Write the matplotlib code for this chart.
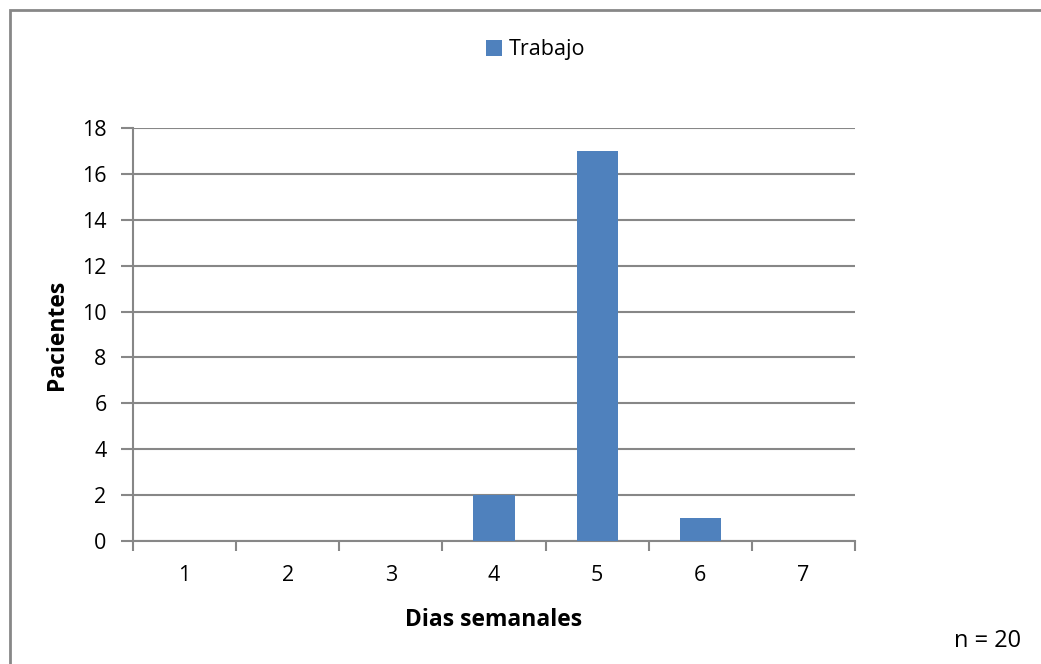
import matplotlib
matplotlib.use("Agg")
import matplotlib.pyplot as plt
from matplotlib.patches import Rectangle
import numpy as np

# Days worked per week and number of patients for each
dias = [1, 2, 3, 4, 5, 6, 7]
pacientes = [0, 0, 0, 2, 17, 1, 0]
serie = "Trabajo"
n_total = 20

plt.rcParams['font.family'] = ['Open Sans', 'DejaVu Sans']
gris = '#878787'
azul = '#4F81BD'

fig = plt.figure(figsize=(10.41, 6.64), dpi=100)
fig.patch.set_facecolor('white')

# outer frame of the chart area (runs off the right and bottom edges)
fig.patches.append(Rectangle((10 / 1041, -0.05), 1.1, 1 - 10 / 664 + 0.05,
                             transform=fig.transFigure, fill=False,
                             edgecolor=gris, linewidth=2))

ax = fig.add_axes([133 / 1041, 1 - 541 / 664, 722 / 1041, (541 - 128) / 664])
x = np.arange(len(dias))
ax.bar(x, pacientes, width=0.4, color=azul, label=serie, zorder=3)

ax.set_xlim(-0.5, len(dias) - 0.5)
ax.set_ylim(0, 18)
ax.set_yticks(np.arange(0, 19, 2))
ax.yaxis.grid(True, color=gris, linewidth=1.5, zorder=0)
ax.set_axisbelow(True)

ax.set_xticks(x)
ax.set_xticklabels([str(d) for d in dias])
ax.set_xticks(np.arange(-0.5, len(dias)), minor=True)
ax.tick_params(axis='x', which='major', length=0, pad=17, labelsize=15.5)
ax.tick_params(axis='x', which='minor', length=7, width=1.5, color=gris)
ax.tick_params(axis='y', length=9, width=1.5, color=gris, pad=10, labelsize=15.5)

for s in ['top', 'right']:
    ax.spines[s].set_visible(False)
for s in ['left', 'bottom']:
    ax.spines[s].set_color(gris)
    ax.spines[s].set_linewidth(1.5)

ax.set_xlabel("Dias semanales", fontsize=16.5, fontweight='bold', labelpad=16)
ax.set_ylabel("Pacientes", fontsize=16.5, fontweight='bold', labelpad=9)

fig.legend(loc='center', bbox_to_anchor=(536 / 1041, 1 - 50 / 664),
           frameon=False, fontsize=15.5, handlelength=0.7, handleheight=0.7,
           handletextpad=0.35)

fig.text(1021 / 1041, 1 - 641 / 664, f"n = {n_total}", ha='right', va='center',
         fontsize=17)

fig.savefig("out.png", dpi=100, facecolor='white')
